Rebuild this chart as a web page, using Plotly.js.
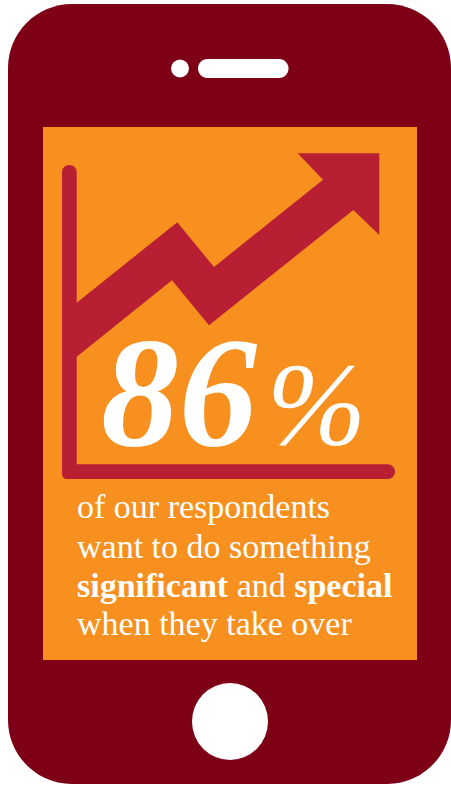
<!DOCTYPE html>
<html><head><meta charset="utf-8">
<script src="https://cdn.plot.ly/plotly-3.0.1.min.js"></script>
<style>html,body{margin:0;padding:0;background:#fff}#c{width:451px;height:785px}</style>
</head><body><div id="c"></div>
<script>
const arrowX=[297.7,379.3,379.3,353.3,209,172,72,72,177.3,214,323,297.7];
const arrowY=[153.3,153.3,235,210,325.3,280.3,360.5,306.4,222.3,267,179.7,153.3];
const headline="<b><i>86</i></b>";
const percent="<i>%</i>";
const textLines=["of our respondents","want to do something","<b>significant</b> and <b>special</b>","when they take over"];
const lineCentres=[506,546,585,623];
const cBody="#7d0016",cScreen="#f7901e",cRed="#b81f33",serif="'Liberation Serif',serif";

function rr(x0,y0,x1,y1,r){const k=r*0.4477;return `M${x0+r},${y0} L${x1-r},${y0} C${x1-k},${y0} ${x1},${y0+k} ${x1},${y0+r} L${x1},${y1-r} C${x1},${y1-k} ${x1-k},${y1} ${x1-r},${y1} L${x0+r},${y1} C${x0+k},${y1} ${x0},${y1-k} ${x0},${y1-r} L${x0},${y0+r} C${x0},${y0+k} ${x0+k},${y0} ${x0+r},${y0} Z`;}
const solid=(path,color,layer)=>({type:'path',path,fillcolor:color,line:{width:0},layer:layer||'below'});
const shapes=[
 solid(rr(8,4,451,784,64),cBody),
 {type:'rect',x0:43,x1:417,y0:127,y1:660,fillcolor:cScreen,line:{width:0},layer:'below'},
 {type:'circle',x0:171,x1:189,y0:59.5,y1:77.5,fillcolor:'#fff',line:{width:0},layer:'below'},
 solid(rr(198,59,288.5,78,9.5),'#fff'),
 {type:'circle',x0:192,x1:268,y0:683,y1:760,fillcolor:'#fff',line:{width:0},layer:'below'},
 solid("M62,172.3 C62,168 65.3,165 69.3,165 C73.4,165 76.7,168 76.7,172.3 L76.7,464.3 L387.6,464.3 C391.7,464.3 395,467.6 395,471.7 C395,475.7 391.7,479 387.6,479 L67,479 C64.2,479 62,476.8 62,474 Z",cRed)
];
const ann=(x,y,text,size,anchor)=>({x,y,xref:'x',yref:'y',text,showarrow:false,xanchor:anchor||'left',yanchor:'middle',align:'left',borderpad:0,font:{family:serif,size,color:'#fff'}});
const annotations=[
 ann(100,392,headline,156),
 ann(266,404,percent,119),
].concat(textLines.map((t,i)=>ann(76,lineCentres[i],t,34)));
Plotly.newPlot('c',[{type:'scatter',mode:'lines',x:arrowX,y:arrowY,fill:'toself',fillcolor:cRed,line:{width:0,color:cRed},hoverinfo:'skip',showlegend:false}],{
 width:451,height:785,margin:{l:0,r:0,t:0,b:0,pad:0},paper_bgcolor:'#fff',plot_bgcolor:'#fff',showlegend:false,
 xaxis:{range:[0,451],visible:false,fixedrange:true},
 yaxis:{range:[785,0],visible:false,fixedrange:true},
 shapes,annotations
},{displayModeBar:false,staticPlot:true});
</script></body></html>
